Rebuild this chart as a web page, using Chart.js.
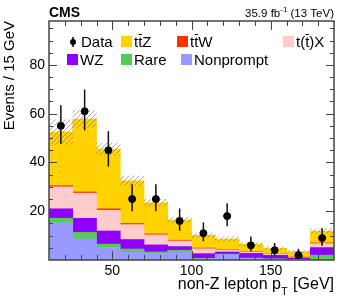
<!DOCTYPE html>
<html>
<head>
<meta charset="utf-8">
<script src="https://cdn.jsdelivr.net/npm/chart.js@4.4.0/dist/chart.umd.min.js"></script>
<style>
  html, body { margin: 0; padding: 0; background: #fff; }
  #wrap { width: 349px; height: 298px; }
</style>
</head>
<body>
<div id="wrap"><canvas id="chart" width="349" height="298"></canvas></div>
<script>
// Bin centres (15 GeV bins from 10 to 190 GeV, last bin = overflow)
const binCenters = [17.5, 32.5, 47.5, 62.5, 77.5, 92.5, 107.5, 122.5, 137.5, 152.5, 167.5, 182.5];

// Stacked predictions, listed bottom to top
const nonprompt = [15.2, 8.6, 5.2, 3.2, 2.8, 3.3, 0.5, 2.2, 0.6, 0.3, 0.1, 0.0];
const rare      = [1.9, 2.7, 1.3, 1.3, 0.5, 0.7, 0.2, 0.2, 0.2, 0.2, 0.1, 2.0];
const wz        = [3.9, 5.8, 5.4, 3.9, 2.9, 1.5, 1.9, 0.9, 1.9, 1.4, 0.7, 3.1];
const tX        = [9.0, 10.3, 8.5, 6.1, 4.1, 2.3, 2.0, 0.7, 0.6, 0.6, 0.2, 1.6];
const ttW       = [0.5, 0.5, 0.6, 0.5, 0.4, 0.3, 0.3, 0.2, 0.2, 0.1, 0.1, 0.3];
const ttZ       = [22.0, 29.9, 24.5, 17.5, 12.8, 8.3, 5.2, 4.4, 2.9, 2.2, 2.2, 4.8];

// Total uncertainty on the prediction (half width of the hatched band)
const uncertainty = [5.0, 3.5, 2.5, 2.0, 1.4, 1.2, 0.9, 0.9, 0.7, 0.6, 0.5, 1.0];

// Observed data with asymmetric Poisson errors
const dataCounts = [55, 61, 45, 25, 25, 16, 11, 18, 6, 4, 2, 9];
const dataErrUp   = [8.5, 8.9, 7.8, 6.1, 6.1, 5.1, 4.4, 5.3, 3.6, 3.0, 2.6, 4.0];
const dataErrDown = [7.4, 7.8, 6.7, 5.0, 5.0, 4.0, 3.3, 4.2, 2.4, 2.4, 1.3, 3.2];

// Axis tick labels
const xTickLabels = [50, 100, 150];
const yTickLabels = [20, 40, 60, 80];

const colors = {
  nonprompt: '#9999ff',
  rare: '#55cc55',
  wz: '#9000ff',
  tX: '#ffcccc',
  ttW: '#ff3300',
  ttZ: '#ffd200'
};

const FONT = "'Liberation Sans', Arial, Helvetica, sans-serif";
Chart.defaults.font.family = FONT;
Chart.defaults.color = '#000';

const canvas = document.getElementById('chart');
const ctx = canvas.getContext('2d');

// diagonal hatching for the uncertainty band
function makeHatch() {
  const c = document.createElement('canvas');
  c.width = 5; c.height = 5;
  const g = c.getContext('2d');
  g.strokeStyle = 'rgba(110,110,110,0.55)';
  g.lineWidth = 1;
  g.beginPath();
  g.moveTo(0, 5); g.lineTo(5, 0);
  g.moveTo(-1, 1); g.lineTo(1, -1);
  g.moveTo(4, 6); g.lineTo(6, 4);
  g.stroke();
  return ctx.createPattern(c, 'repeat');
}

function barSet(label, values, color) {
  return {
    type: 'bar',
    label: label,
    data: values.map((v, i) => ({ x: binCenters[i], y: v })),
    backgroundColor: color,
    borderWidth: 0,
    stack: 'mc',
    grouped: false,
    barPercentage: 1,
    categoryPercentage: 1,
    order: 2
  };
}

const totals = binCenters.map((_, i) =>
  nonprompt[i] + rare[i] + wz[i] + tX[i] + ttW[i] + ttZ[i]);

// draw text made of pieces, some of them with an overline (anti-top)
function drawParts(g, parts, x, y) {
  parts.forEach(p => {
    const w = g.measureText(p.t).width;
    g.fillText(p.t, x, y);
    if (p.bar) {
      g.beginPath();
      g.lineWidth = 1;
      g.moveTo(x + 0.5, y - 12.5);
      g.lineTo(x + w - 0.5, y - 12.5);
      g.stroke();
    }
    x += w;
  });
}

const decor = {
  id: 'decor',
  afterDatasetsDraw(chart) {
    const g = chart.ctx;
    const xs = chart.scales.x, ys = chart.scales.y;
    // error bars on data points
    g.save();
    g.strokeStyle = '#111';
    g.lineWidth = 1.5;
    dataCounts.forEach((n, i) => {
      const px = xs.getPixelForValue(binCenters[i]);
      g.beginPath();
      g.moveTo(px, ys.getPixelForValue(n + dataErrUp[i]));
      g.lineTo(px, ys.getPixelForValue(n - dataErrDown[i]));
      g.stroke();
    });
    g.restore();
  },
  afterDraw(chart) {
    const g = chart.ctx;
    const a = chart.chartArea;
    const xs = chart.scales.x, ys = chart.scales.y;
    g.save();

    // frame
    g.strokeStyle = '#444';
    g.lineWidth = 1.5;
    g.strokeRect(a.left, a.top, a.right - a.left, a.bottom - a.top);

    // inward tick marks
    g.lineWidth = 1;
    g.beginPath();
    for (let v = 5; v < ys.max; v += 5) {
      const py = Math.round(ys.getPixelForValue(v)) + 0.5;
      const len = v % 20 === 0 ? 8 : 4;
      g.moveTo(a.left, py); g.lineTo(a.left + len, py);
      g.moveTo(a.right, py); g.lineTo(a.right - len, py);
    }
    for (let v = 20; v < xs.max; v += 10) {
      const px = Math.round(xs.getPixelForValue(v)) + 0.5;
      const len = v % 50 === 0 ? 9 : 5;
      g.moveTo(px, a.bottom); g.lineTo(px, a.bottom - len);
      g.moveTo(px, a.top); g.lineTo(px, a.top + len);
    }
    g.stroke();

    g.fillStyle = '#000';
    g.strokeStyle = '#000';

    // header
    g.textBaseline = 'alphabetic';
    g.textAlign = 'left';
    g.font = 'bold 14px ' + FONT;
    g.fillText('CMS', a.left, 17);

    const p1 = '35.9 fb', p3 = ' (13 TeV)';
    g.font = '8px ' + FONT;
    const wSup = g.measureText('-1').width;
    g.font = '11.5px ' + FONT;
    const w1 = g.measureText(p1).width, w3 = g.measureText(p3).width;
    let hx = a.right - (w1 + wSup + w3);
    g.fillText(p1, hx, 17); hx += w1;
    g.font = '8px ' + FONT;
    g.fillText('-1', hx, 12); hx += wSup;
    g.font = '11.5px ' + FONT;
    g.fillText(p3, hx, 17);

    // x axis title with subscript
    const tSize = 16;
    g.font = tSize + 'px ' + FONT;
    const xa = 'non-Z lepton p', xc = ' [GeV]';
    const wa = g.measureText(xa).width, wc = g.measureText(xc).width;
    g.font = '11px ' + FONT;
    const wb = g.measureText('T').width;
    let tx = a.right - (wa + wb + wc + 1);
    const ty = 289;
    g.font = tSize + 'px ' + FONT;
    g.fillText(xa, tx, ty); tx += wa;
    g.font = '11px ' + FONT;
    g.fillText('T', tx, ty + 6); tx += wb + 1;
    g.font = tSize + 'px ' + FONT;
    g.fillText(xc, tx, ty);

    // legend
    g.font = '15px ' + FONT;
    const r1 = 47, r2 = 65;
    // Data marker
    g.beginPath();
    g.arc(73, r1 - 5, 3, 0, Math.PI * 2);
    g.fill();
    g.beginPath();
    g.lineWidth = 1.5;
    g.moveTo(73, r1 - 10); g.lineTo(73, r1);
    g.stroke();
    g.fillText('Data', 81, r1);

    const boxes = [
      { c: colors.ttZ, x: 121, y: r1, parts: [{ t: 't' }, { t: 't', bar: true }, { t: 'Z' }] },
      { c: colors.ttW, x: 177, y: r1, parts: [{ t: 't' }, { t: 't', bar: true }, { t: 'W' }] },
      { c: colors.tX, x: 283, y: r1, parts: [{ t: 't(' }, { t: 't', bar: true }, { t: ')X' }] },
      { c: colors.wz, x: 67, y: r2, parts: [{ t: 'WZ' }] },
      { c: colors.rare, x: 121, y: r2, parts: [{ t: 'Rare' }] },
      { c: colors.nonprompt, x: 181, y: r2, parts: [{ t: 'Nonprompt' }] }
    ];
    boxes.forEach(b => {
      g.fillStyle = b.c;
      g.fillRect(b.x, b.y - 11, 11, 11);
      g.fillStyle = '#000';
      drawParts(g, b.parts, b.x + 13, b.y);
    });

    g.restore();
  }
};

new Chart(ctx, {
  type: 'bar',
  data: {
    datasets: [
      {
        type: 'scatter',
        label: 'Data',
        data: dataCounts.map((n, i) => ({ x: binCenters[i], y: n })),
        backgroundColor: '#000',
        borderColor: '#000',
        pointRadius: 3.5,
        pointHoverRadius: 3.5,
        showLine: false,
        stack: 'data',
        order: 0
      },
      {
        type: 'bar',
        label: 'Uncertainty',
        data: totals.map((t, i) => ({ x: binCenters[i], y: [t - uncertainty[i], t + uncertainty[i]] })),
        backgroundColor: makeHatch(),
        borderWidth: 0,
        stack: 'unc',
        grouped: false,
        barPercentage: 1,
        categoryPercentage: 1,
        order: 1
      },
      barSet('Nonprompt', nonprompt, colors.nonprompt),
      barSet('Rare', rare, colors.rare),
      barSet('WZ', wz, colors.wz),
      barSet('t(t)X', tX, colors.tX),
      barSet('ttW', ttW, colors.ttW),
      barSet('ttZ', ttZ, colors.ttZ)
    ]
  },
  options: {
    responsive: false,
    animation: false,
    layout: { padding: { top: 21, right: 15, left: 0, bottom: 0 } },
    plugins: { legend: { display: false }, tooltip: { enabled: false } },
    scales: {
      x: {
        type: 'linear',
        min: 10,
        max: 190,
        offset: false,
        grid: { display: false, drawTicks: false },
        border: { display: false },
        ticks: { font: { size: 14 }, color: '#000', padding: 3, maxRotation: 0 },
        afterBuildTicks: s => { s.ticks = xTickLabels.map(v => ({ value: v })); },
        afterFit: s => { s.height = 38; }
      },
      y: {
        type: 'linear',
        stacked: true,
        min: 0,
        max: 98,
        grid: { display: false, drawTicks: false },
        border: { display: false },
        ticks: { font: { size: 14 }, color: '#000', padding: 4 },
        afterBuildTicks: s => { s.ticks = yTickLabels.map(v => ({ value: v })); },
        afterFit: s => { s.width = 49; },
        title: {
          display: true,
          text: 'Events / 15 GeV',
          align: 'end',
          font: { size: 15 },
          color: '#000',
          padding: { top: 1, bottom: 0 }
        }
      }
    }
  },
  plugins: [decor]
});
</script>
</body>
</html>
